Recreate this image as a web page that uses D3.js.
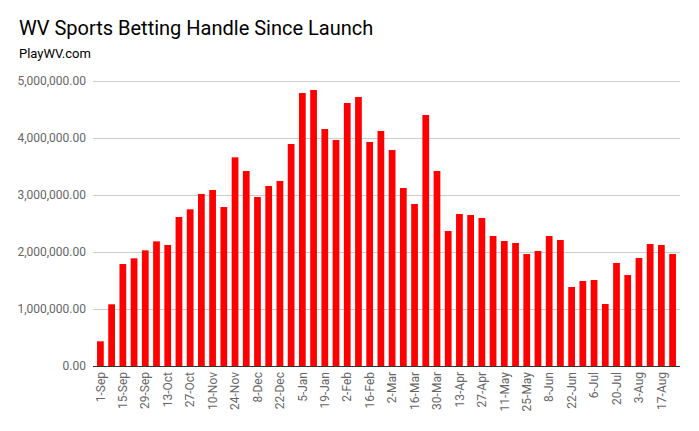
<!DOCTYPE html>
<html><head><meta charset="utf-8">
<script src="https://cdn.jsdelivr.net/npm/d3@7"></script>
<style>body{margin:0;background:#fff}svg{display:block}text{font-family:Roboto,Arial,sans-serif}</style>
</head><body>
<svg id="c" width="699" height="431"></svg>
<script>
const weeks = ["1-Sep","8-Sep","15-Sep","22-Sep","29-Sep","6-Oct","13-Oct","20-Oct","27-Oct","3-Nov","10-Nov","17-Nov","24-Nov","1-Dec","8-Dec","15-Dec","22-Dec","29-Dec","5-Jan","12-Jan","19-Jan","26-Jan","2-Feb","9-Feb","16-Feb","23-Feb","2-Mar","9-Mar","16-Mar","23-Mar","30-Mar","6-Apr","13-Apr","20-Apr","27-Apr","4-May","11-May","18-May","25-May","1-Jun","8-Jun","15-Jun","22-Jun","29-Jun","6-Jul","13-Jul","20-Jul","27-Jul","3-Aug","10-Aug","17-Aug","24-Aug"];
const handle = [433000,1082000,1789000,1889000,2029000,2187000,2123000,2614000,2749000,3018000,3088000,2789000,3661000,3421000,2965000,3158000,3246000,3895000,4789000,4842000,4158000,3965000,4614000,4719000,3930000,4123000,3789000,3123000,2842000,4404000,3421000,2368000,2667000,2649000,2596000,2281000,2193000,2158000,1965000,2018000,2281000,2211000,1386000,1491000,1509000,1088000,1807000,1596000,1895000,2140000,2123000,1965000];
const yTicks = [0,1000000,2000000,3000000,4000000,5000000];
const title = "WV Sports Betting Handle Since Launch";
const subtitle = "PlayWV.com";

const svg = d3.select("#c");
const x = d3.scaleBand().domain(weeks).range([93,680]).paddingInner(0.4).paddingOuter(0.36);
const y = d3.scaleLinear().domain([0,5000000]).range([366,81]);

svg.append("text").attr("x",19).attr("y",35).attr("font-size",20).attr("fill","#000").text(title);
svg.append("text").attr("x",19).attr("y",58).attr("font-size",13).attr("fill","#000").text(subtitle);

const ya = svg.append("g").attr("transform","translate(93,0)")
  .call(d3.axisLeft(y).tickValues(yTicks).tickSize(-587).tickFormat(d3.format(",.2f")));
ya.select(".domain").remove();
ya.selectAll(".tick line").attr("stroke","#cccccc");
ya.selectAll(".tick text").attr("x",-7).attr("font-size",12).attr("fill","#666666").attr("font-family","Roboto, Arial, sans-serif");

svg.append("g").selectAll("rect").data(handle).join("rect")
  .attr("x",(d,i)=>x(weeks[i])).attr("width",x.bandwidth())
  .attr("y",d=>y(d)).attr("height",d=>y(0)-y(d))
  .attr("fill","#ff0000");

const xa = svg.append("g").attr("transform","translate(0,366)")
  .call(d3.axisBottom(x).tickValues(weeks.filter((d,i)=>i%2===0)).tickSize(0));
xa.select(".domain").attr("stroke","#333333").attr("d","M93,0.5H680");
xa.selectAll(".tick text").attr("transform","rotate(-90)").attr("text-anchor","end")
  .attr("x",-6).attr("y",0).attr("dy","0.35em").attr("font-size",12).attr("fill","#666666").attr("font-family","Roboto, Arial, sans-serif");
</script>
</body></html>
